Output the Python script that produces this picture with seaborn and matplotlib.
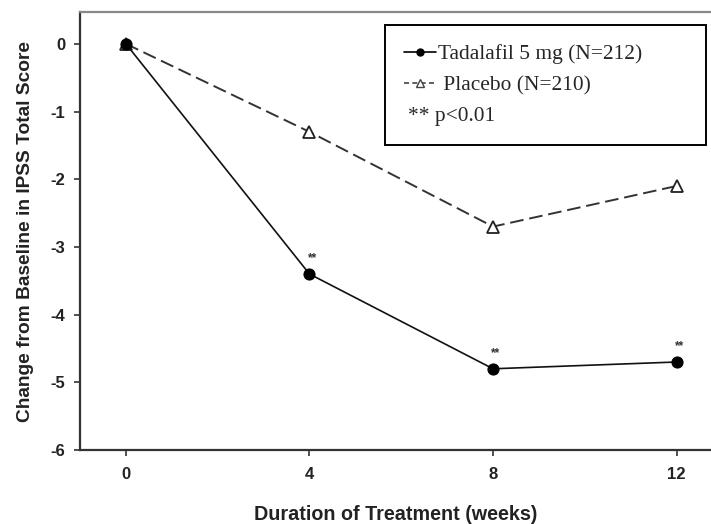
import pandas as pd
import matplotlib.pyplot as plt
import seaborn as sns
from matplotlib.lines import Line2D

# Data
weeks = [0, 4, 8, 12]
tadalafil = [0, -3.4, -4.8, -4.7]
placebo = [0, -1.3, -2.7, -2.1]
sig_weeks = [4, 8, 12]
sig_labels = ['**', '**', '**']

df = pd.DataFrame({'Week': weeks, 'Tadalafil': tadalafil, 'Placebo': placebo})

sns.set_style('ticks')
plt.rcParams['font.family'] = ['Liberation Sans', 'DejaVu Sans']
plt.rcParams['axes.unicode_minus'] = False

fig = plt.figure(figsize=(7.11, 5.24), dpi=100)
ax = fig.add_axes([0.1125, 0.1412, 0.8875, 0.8359])

sns.lineplot(data=df, x='Week', y='Placebo', ax=ax, color='#333333', lw=1.4,
             linestyle=(0, (7, 3)), marker='^', markersize=8, markerfacecolor='white',
             markeredgecolor='#222222', markeredgewidth=1.3, legend=False)
sns.lineplot(data=df, x='Week', y='Tadalafil', ax=ax, color='#111111', lw=1.2,
             marker='o', markersize=8, markerfacecolor='black',
             markeredgecolor='black', legend=False)

# significance markers
tad_by_week = dict(zip(weeks, tadalafil))
for w, s in zip(sig_weeks, sig_labels):
    ax.annotate(s, (w, tad_by_week[w]), xytext=(2, 7), textcoords='offset points',
                ha='center', va='bottom', fontsize=8.5, fontweight='bold', color='#333333')

ax.set_xlim(-1, 12.75)
ax.set_ylim(-6, 0.47)
ax.set_xticks(weeks)
ax.set_yticks([0, -1, -2, -3, -4, -5, -6])
ax.tick_params(axis='both', direction='out', length=4.5, width=1.2, colors='#333333',
               labelsize=12, labelcolor='#222222')
for lab in ax.get_xticklabels() + ax.get_yticklabels():
    lab.set_fontweight('bold')
ax.tick_params(axis='x', pad=8)
ax.tick_params(axis='y', pad=6)

for side in ['left', 'bottom', 'top']:
    ax.spines[side].set_linewidth(1.6)
    ax.spines[side].set_color('#333333')
ax.spines['top'].set_color('#888888')
ax.spines['right'].set_visible(False)

ax.set_xlabel('Duration of Treatment (weeks)', fontsize=14.2, fontweight='bold',
              color='#222222', labelpad=16.5)
ax.set_ylabel('Change from Baseline in IPSS Total Score', fontsize=13.8,
              fontweight='bold', color='#222222', labelpad=12)

handles = [
    Line2D([], [], color='black', lw=1.2, marker='o', markersize=5),
    Line2D([], [], color='#444444', lw=1.2, linestyle=(0, (3, 2)), marker='^',
           markersize=5.5, markerfacecolor='white'),
    Line2D([], [], color='none'),
]
labels = ['Tadalafil 5 mg (N=212)', ' Placebo (N=210)', '** p<0.01']
leg = ax.legend(handles, labels, loc='upper left',
                bbox_to_anchor=(0.4834, 0.70, 0.5086, 0.270), mode='expand',
                frameon=True, fancybox=False, edgecolor='black', framealpha=1,
                prop={'family': 'Liberation Serif', 'size': 15.4},
                handlelength=1.5, handletextpad=0.1, labelspacing=0.5,
                borderpad=0.9, borderaxespad=0)
leg.get_frame().set_linewidth(1.4)
leg.get_texts()[2].set_x(-30)

fig.savefig('out.png', dpi=100)
